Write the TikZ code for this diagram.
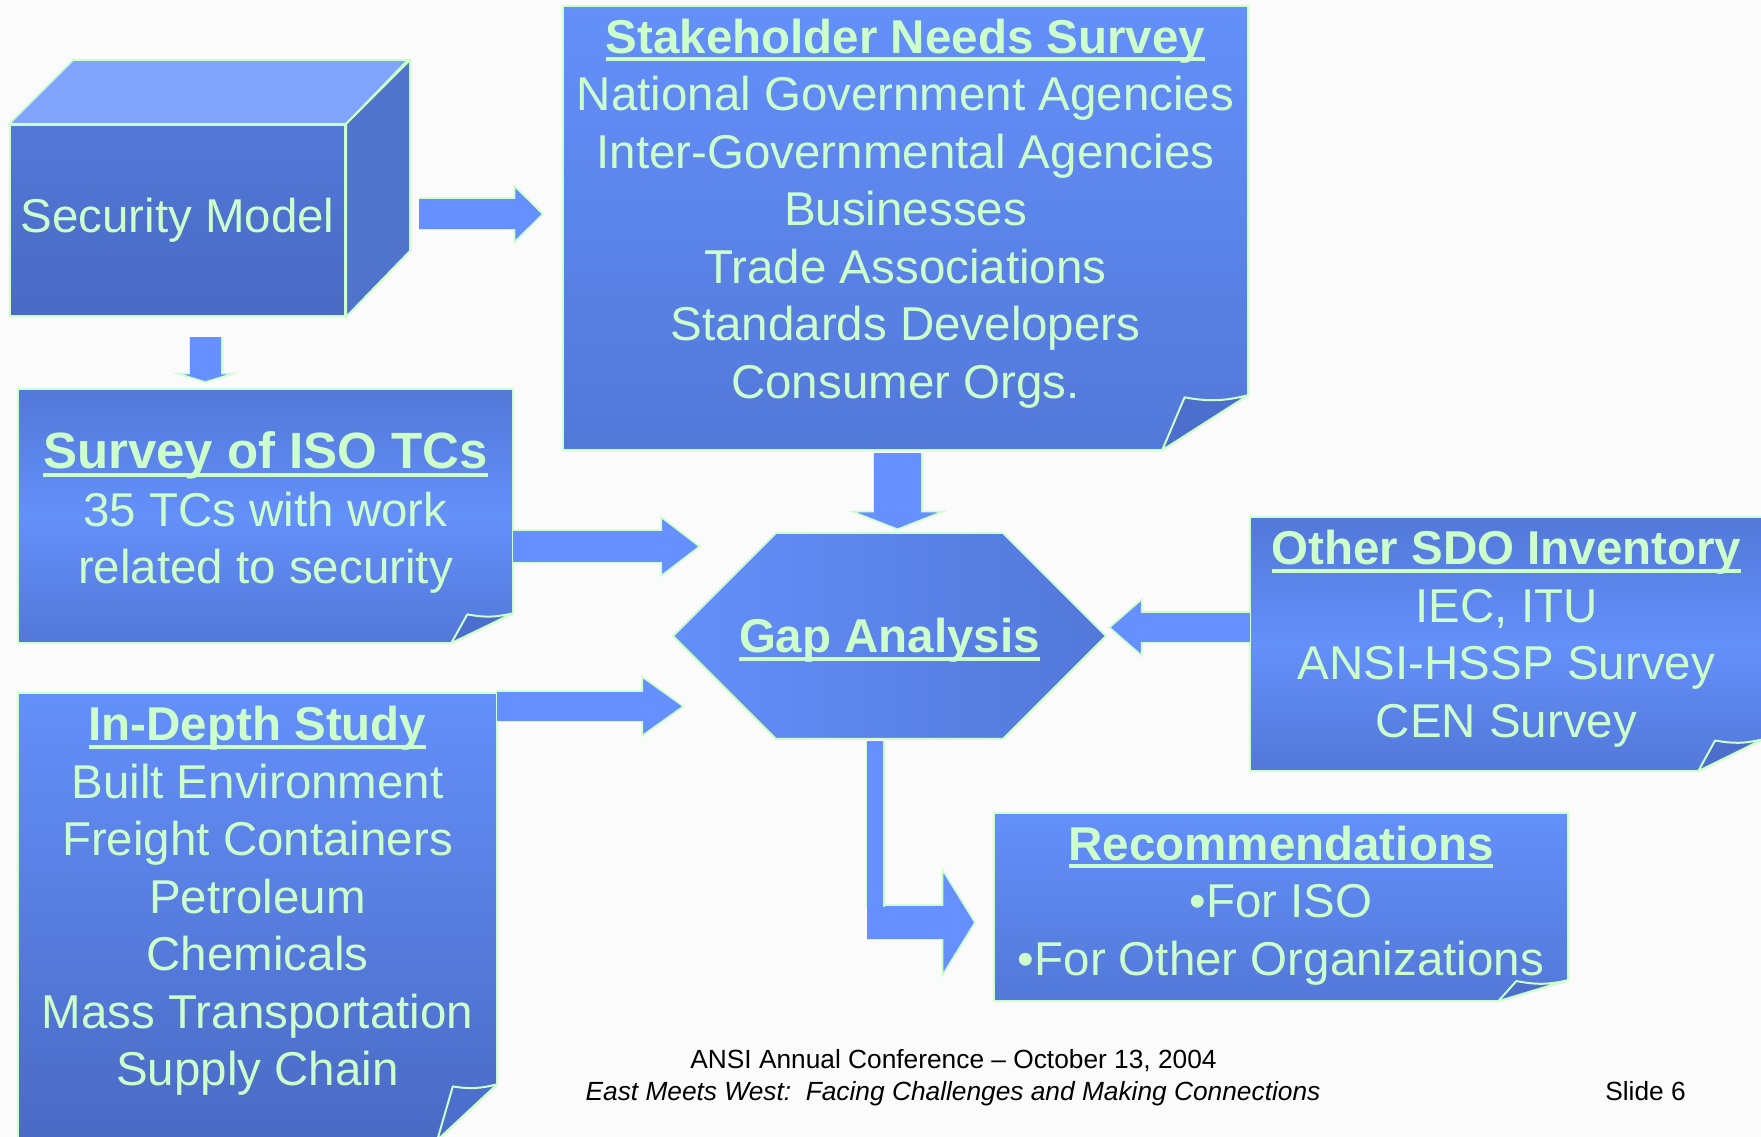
\documentclass[tikz,border=0pt]{standalone}
\usepackage{fontspec}
\setmainfont{Liberation Sans}
\usetikzlibrary{arrows.meta,calc,shapes.symbols}

\definecolor{mint}{RGB}{204,255,204}
\definecolor{paneltop}{RGB}{100,144,250}
\definecolor{paneldark}{RGB}{82,120,216}
\definecolor{paneldeep}{RGB}{74,106,196}
\definecolor{arrowblue}{RGB}{102,144,255}
\definecolor{cubetop}{RGB}{128,164,252}
\definecolor{cubeside}{RGB}{80,116,204}
\definecolor{flapblue}{RGB}{76,110,204}
\definecolor{pagebg}{RGB}{251,251,251}

\newsavebox{\titlebox}
\newcommand{\titleline}[1]{\sbox{\titlebox}{#1}\rlap{\rule[-8pt]{\wd\titlebox}{4pt}}\usebox{\titlebox}}

% box with a curled corner round an empty node
\newcommand{\earbox}[4]{%
  \draw[boxline, #4] (#1.north west) -- (#1.north east) -- ([yshift=#3pt]#1.south east)
    -- ([xshift=-#2pt]#1.south east) -- (#1.south west) -- cycle;
  \draw[flap] ([xshift=-#2pt]#1.south east) -- ([xshift=-0.74*#2pt, yshift=0.96*#3pt]#1.south east)
    to[bend right=12] ([yshift=#3pt]#1.south east) -- cycle;
}

\begin{document}
\begin{tikzpicture}[x=1pt, y=1pt,
    panel/.style n args={2}{minimum width=#1pt, minimum height=#2pt, inner sep=0pt},
    boxline/.style={draw=mint, line width=2pt},
    flap/.style={draw=mint, line width=2pt, fill=flapblue, line join=round},
    words/.style={text=mint, align=center, inner sep=0pt, font=\fontsize{47.5}{57.5}\selectfont},
    foot/.style={anchor=base, inner sep=0pt, font=\fontsize{26.3}{30}\selectfont},
    hexa/.style={signal, signal to=east and west, signal pointer angle=90,
        minimum height=206pt, draw=mint, line width=2pt, left color=paneltop, right color=paneldark},
    fat/.style n args={5}{draw=arrowblue, line width=#1pt, shorten <=#4pt, shorten >=#5pt,
        -{Triangle[width=#2pt, length=#3pt, line width=1.5pt, color=mint, fill=arrowblue]},
        preaction={draw=mint, line width=#1pt+3pt},
        postaction={draw=arrowblue, line width=#1pt, arrows=-, shorten >=#5pt+#3pt-2pt}},
    fatstem/.style={draw=arrowblue, line width=#1pt, preaction={draw=mint, line width=#1pt+3pt}}]

        \path[use as bounding box, fill=pagebg] (0,0) rectangle (1761,1137);

        \node[boxline, panel={335}{191}, top color=paneldark, middle color=paneltop, bottom color=paneldeep, words] (model) at (177.5,916.5) {Security Model};
        \draw[boxline, fill=cubetop] (model.north west) -- ++(64,64) -- ++(335,0) -- (model.north east) -- cycle;
        \draw[boxline, fill=cubeside] (model.north east) -- ++(64,64) -- ++(0,-191) -- (model.south east) -- cycle;

        \node[panel={685}{444}] (needs) at (905.5,909) {};
        \earbox{needs}{86}{55}{top color=paneltop, bottom color=paneldark}
        \node[words] (needstext) at ([yshift=14.5pt]needs.center) {\titleline{\textbf{Stakeholder Needs Survey}}\\
            National Government Agencies\\ Inter-Governmental Agencies\\ Businesses\\
            Trade Associations\\ Standards Developers\\ Consumer Orgs.};

        \node[panel={495}{254}] (tcs) at (265.5,621) {};
        \earbox{tcs}{62}{30}{top color=paneldark, bottom color=paneldark, middle color=paneltop}
        \node[words] (tcstext) at ([yshift=3.5pt]tcs.center) {{\fontsize{51}{57.5}\selectfont\titleline{\textbf{Survey of ISO TCs}}}\\
            35 TCs with work\\ related to security};

        \node[panel={479}{447}] (study) at (257.5,220.5) {};
        \earbox{study}{60}{56}{top color=paneltop, bottom color=paneldeep}
        \node[words] (studytext) at ([yshift=15.5pt]study.center) {\titleline{\textbf{In-Depth Study}}\\
            Built Environment\\ Freight Containers\\ Petroleum\\ Chemicals\\ Mass Transportation\\ Supply Chain};

        \node[panel={513}{254}] (sdo) at (1506.5,493) {};
        \earbox{sdo}{65}{32}{top color=paneldark, bottom color=paneldark, middle color=paneltop}
        \node[words] (sdotext) at ([yshift=5.5pt]sdo.center) {\titleline{\textbf{Other SDO Inventory}}\\
            IEC, ITU\\ ANSI-HSSP Survey\\ CEN Survey};

        \node[panel={574}{188}] (recs) at (1281,230) {};
        \earbox{recs}{70}{21}{top color=paneltop, bottom color=paneldark}
        \node[words] (recstext) at ([yshift=1.5pt]recs.center) {\titleline{\textbf{Recommendations}}\\
            •For ISO\\ •For Other Organizations};

        \node[hexa, words, inner xsep=-37pt] (gap) at (889.5,501) {\raisebox{-4.5pt}[\height][\depth]{\titleline{\textbf{Gap Analysis}}}};

        \draw[fat={30}{59}{30}{73}{19}] ($(model.east)+(0,6.5)$) -- ($(model.east -| needs.west)+(0,6.5)$);
        \draw[fat={31}{65}{10}{20}{6}] ($(model.south)+(28,0)$) -- ($(model.south |- tcs.north)+(28,0)$);
        \draw[fat={47}{97}{19}{3}{2}] ($(needs.south)+(-8,0)$) -- ($(needs.south |- gap.north)+(-8,0)$);
        \draw[fat={31}{61}{40}{0}{-29}] ($(tcs.east)+(0,-30.5)$) -- ($(tcs.east -| gap.west)+(0,-30.5)$);
        \draw[fat={29}{61}{43}{0}{-13}] ($(study.north east)+(0,-13.5)$) -- ($(study.north east -| gap.west)+(0,-13.5)$);
        \draw[fat={29}{59}{34}{0}{1}] ($(sdo.west)+(0,16.5)$) -- ($(sdo.west -| gap.east)+(0,16.5)$);
        \draw[fat={33}{110}{34}{0}{18}] ($(gap.south |- recs.west)+(-22.5,-15.5)$) -- ($(recs.west)+(0,-15.5)$);
        \draw[fatstem=16, shorten <=1pt] ($(gap.south)+(-14.5,0)$) -- ($(gap.south |- recs.west)+(-14.5,0)$);

        \node[foot] (conf) at (953.5,68) {ANSI Annual Conference – October 13, 2004};
        \node[foot, font=\fontsize{26.3}{30}\selectfont\itshape] (motto) at (953,36) {East Meets West:\ \ Facing Challenges and Making Connections};
        \node[foot] (slide) at (1645.5,36) {Slide 6};
    \end{tikzpicture}
\end{document}
